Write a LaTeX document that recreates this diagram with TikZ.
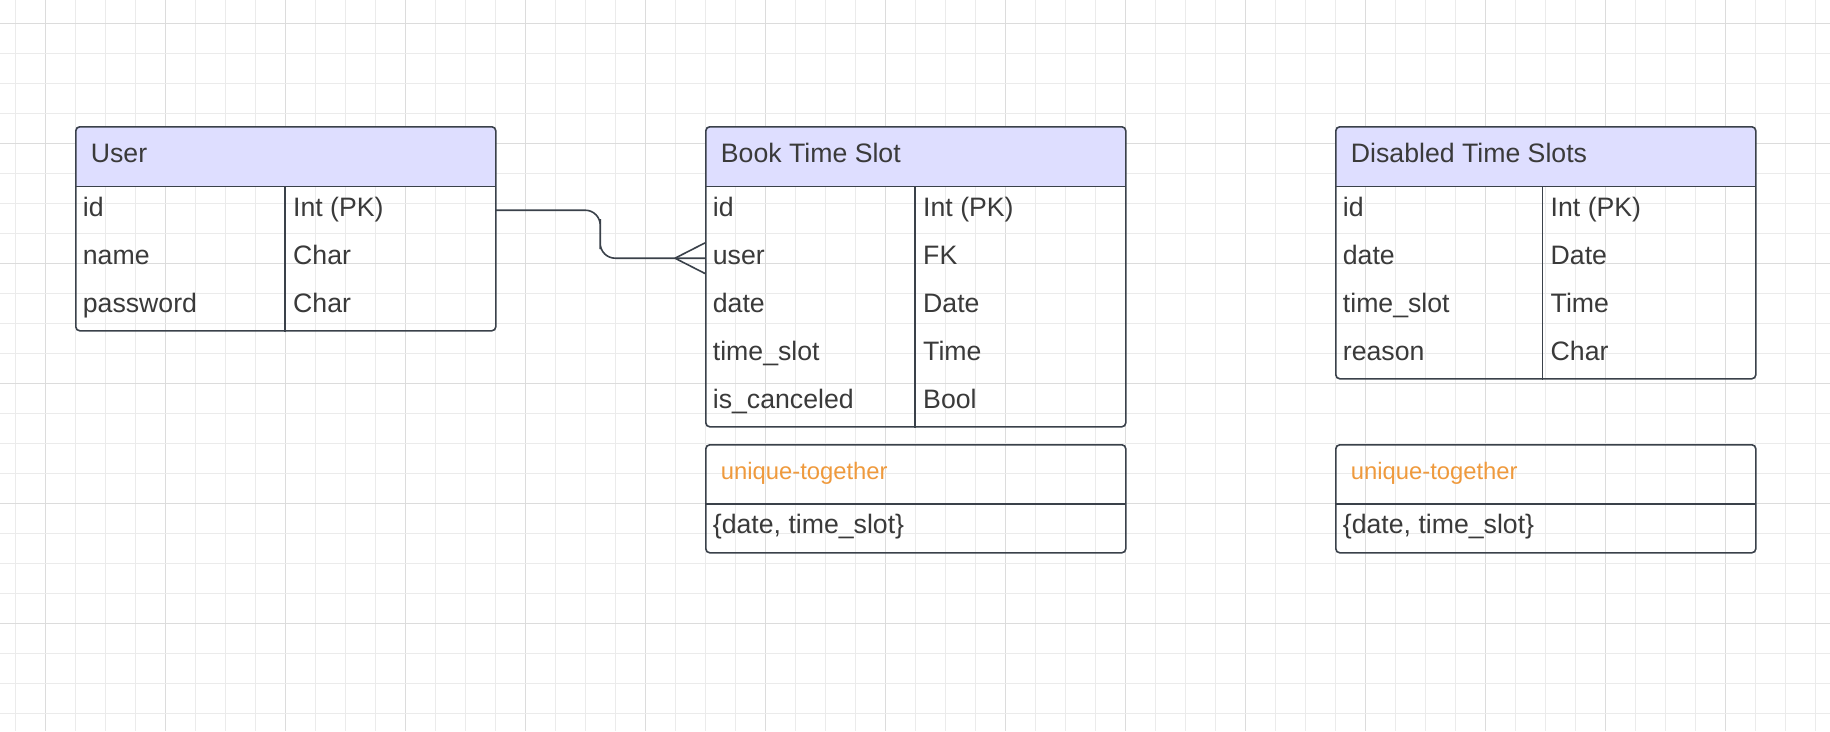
\documentclass[tikz,border=0pt]{standalone}
\usepackage{fontspec}
\setmainfont{Liberation Sans}
\usetikzlibrary{calc}
\definecolor{gridminor}{HTML}{EBEBEB}
\definecolor{gridmajor}{HTML}{DCDCDC}
\definecolor{hdrfill}{HTML}{DEDEFF}
\definecolor{linec}{HTML}{3A414A}
\definecolor{textc}{HTML}{3A3A3A}
\definecolor{orangec}{HTML}{EF9A3D}
\tikzset{
  x=1pt, y=-1pt,
  tablebox/.style={draw=linec, line width=1.6pt, rounded corners=4pt, anchor=north west, inner sep=0pt},
  hdrbox/.style={fill=hdrfill, rounded corners=4pt, anchor=north west, inner sep=0pt, minimum height=60pt},
  rowbox/.style={anchor=north west, inner sep=0pt, minimum height=48pt},
  sepline/.style={draw=linec, line width=1.6pt},
  txt/.style={font=\fontsize{26.67}{32}\selectfont, text=textc, anchor=base west, inner sep=0pt},
  otxt/.style={font=\fontsize{23.8}{28}\selectfont, text=orangec, anchor=base west, inner sep=0pt},
  conn/.style={draw=linec, line width=1.6pt},
}
\begin{document}
\begin{tikzpicture}
\useasboundingbox (0,0) rectangle (1830,731);
\fill[white] (0,0) rectangle (1830,731);
% grid
\foreach \k in {0,...,60} {
  \pgfmathsetmacro{\xx}{15+30*\k}
  \pgfmathtruncatemacro{\m}{mod(\k+3,4)}
  \ifnum\m=0 \draw[gridmajor, line width=1pt] (\xx,0) -- (\xx,731);
  \else \draw[gridminor, line width=1pt] (\xx,0) -- (\xx,731); \fi
}
\foreach \k in {0,...,23} {
  \pgfmathsetmacro{\yy}{23.33+30*\k}
  \pgfmathtruncatemacro{\m}{mod(\k,4)}
  \ifnum\m=0 \draw[gridmajor, line width=1pt] (0,\yy) -- (1830,\yy);
  \else \draw[gridminor, line width=1pt] (0,\yy) -- (1830,\yy); \fi
}

% ===== User =====
\node[hdrbox, minimum width=420pt] (uh) at (75,126) {};
\fill[hdrfill] (75,160) rectangle (495,186);
\node[tablebox, minimum width=420pt, minimum height=204pt] (user) at (75,126) {};
\draw[sepline] (uh.south west) -- (uh.south east);
\draw[sepline] (285,186) -- (user.south -| 285,0);
\node[rowbox, minimum width=420pt] (u1) at (75,186) {};
\node[rowbox, minimum width=420pt] (u2) at (75,234) {};
\node[rowbox, minimum width=420pt] (u3) at (75,282) {};
\node[txt] (uht) at (90.7,162) {User};
\node[txt] (u1a) at (82.7,216.5) {id};
\node[txt] (u1b) at (293,216.5) {Int (PK)};
\node[txt] (u2a) at (82.7,264.5) {name};
\node[txt] (u2b) at (293,264.5) {Char};
\node[txt] (u3a) at (82.7,312.5) {password};
\node[txt] (u3b) at (293,312.5) {Char};

% ===== Book Time Slot =====
\node[hdrbox, minimum width=420pt] (bh) at (705,126) {};
\fill[hdrfill] (705,160) rectangle (1125,186);
\node[tablebox, minimum width=420pt, minimum height=300pt] (bts) at (705,126) {};
\draw[sepline] (bh.south west) -- (bh.south east);
\draw[sepline] (915,186) -- (bts.south -| 915,0);
\node[rowbox, minimum width=420pt] (b1) at (705,186) {};
\node[rowbox, minimum width=420pt] (b2) at (705,234) {};
\node[txt] (bht) at (720.7,162) {Book Time Slot};
\node[txt] (b1a) at (712.7,216.5) {id};
\node[txt] (b1b) at (923,216.5) {Int (PK)};
\node[txt] (b2a) at (712.7,264.5) {user};
\node[txt] (b2b) at (923,264.5) {FK};
\node[txt] (b3a) at (712.7,312.5) {date};
\node[txt] (b3b) at (923,312.5) {Date};
\node[txt] (b4a) at (712.7,360.5) {time\_slot};
\node[txt] (b4b) at (923,360.5) {Time};
\node[txt] (b5a) at (712.7,408) {is\_canceled};
\node[txt] (b5b) at (923,408) {Bool};

% unique-together (BTS)
\node[tablebox, minimum width=420pt, minimum height=108pt] (bu) at (705,444) {};
\draw[sepline] (705,504) -- (1125,504);
\node[otxt] (bu1) at (720.7,479.5) {unique-together};
\node[txt] (bu2) at (712.7,533) {\{date, time\_slot\}};

% ===== Disabled Time Slots =====
\node[hdrbox, minimum width=420pt] (dh) at (1335,126) {};
\fill[hdrfill] (1335,160) rectangle (1755,186);
\node[tablebox, minimum width=420pt, minimum height=252pt] (dts) at (1335,126) {};
\draw[sepline] (dh.south west) -- (dh.south east);
\draw[sepline] (1542.3,186) -- (dts.south -| 1542.3,0);
\node[txt] (dht) at (1350.7,162) {Disabled Time Slots};
\node[txt] (d1a) at (1342.7,216.5) {id};
\node[txt] (d1b) at (1550.5,216.5) {Int (PK)};
\node[txt] (d2a) at (1342.7,264.5) {date};
\node[txt] (d2b) at (1550.5,264.5) {Date};
\node[txt] (d3a) at (1342.7,312.5) {time\_slot};
\node[txt] (d3b) at (1550.5,312.5) {Time};
\node[txt] (d4a) at (1342.7,360.5) {reason};
\node[txt] (d4b) at (1550.5,360.5) {Char};

% unique-together (DTS)
\node[tablebox, minimum width=420pt, minimum height=108pt] (du) at (1335,444) {};
\draw[sepline] (1335,504) -- (1755,504);
\node[otxt] (du1) at (1350.7,479.5) {unique-together};
\node[txt] (du2) at (1342.7,533) {\{date, time\_slot\}};

% ===== connector User.id -> BTS.user (crow's foot) =====
\draw[conn, rounded corners=15pt] (u1.east) -| ($(u1.east)!0.5!(b2.west)$) |- (b2.west);
\draw[conn] ($(b2.west)+(-30,0)$) -- ($(b2.west)+(0,-15.3)$);
\draw[conn] ($(b2.west)+(-30,0)$) -- ($(b2.west)+(0,15.3)$);
\end{tikzpicture}
\end{document}
